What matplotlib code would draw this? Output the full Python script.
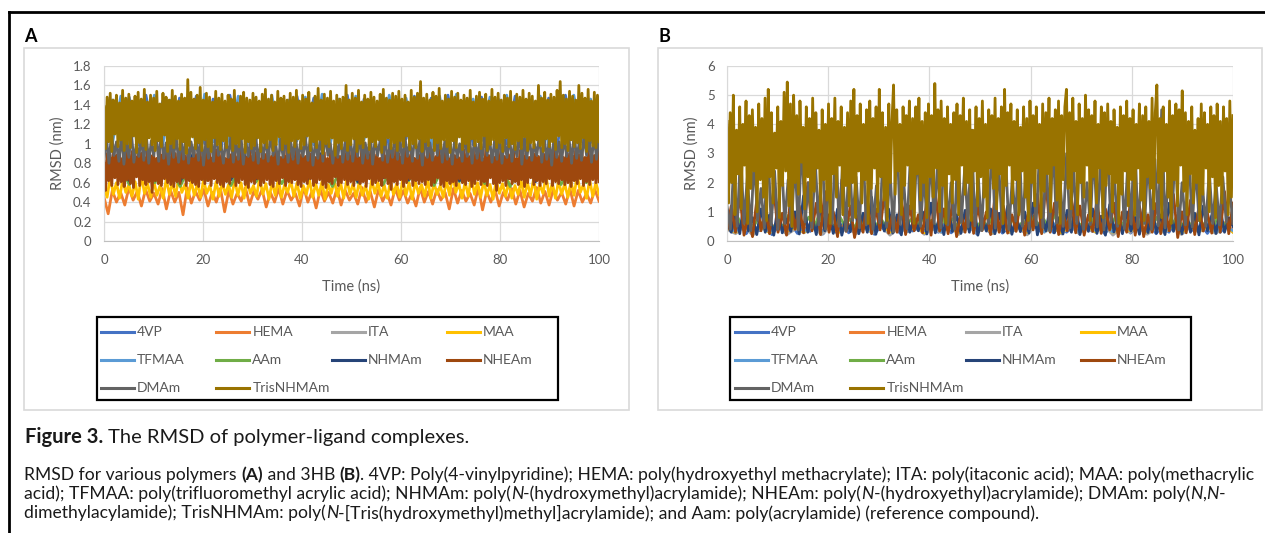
import numpy as np
import matplotlib
matplotlib.use("Agg")
import matplotlib.pyplot as plt
from matplotlib.lines import Line2D
from matplotlib.patches import Rectangle

names = ["4VP", "HEMA", "ITA", "MAA", "TFMAA", "AAm", "NHMAm", "NHEAm", "DMAm", "TrisNHMAm"]
colors = ["#4472C4", "#ED7D31", "#A5A5A5", "#FFC000", "#5B9BD5",
          "#70AD47", "#264478", "#9E480E", "#636363", "#997300"]

# ---- panel A : RMSD (nm) of polymer-ligand complexes, sampled over 0-100 ns ----
a_4vp = [1.20, 1.45, 1.02, 1.48, 0.98, 1.50, 1.05, 1.44, 0.96, 1.47, 1.08, 1.49, 1.00, 1.46, 0.97, 1.50,
         1.04, 1.43, 0.99, 1.48, 1.06, 1.45, 0.95, 1.49, 1.02, 1.47, 1.00, 1.44, 1.07, 1.50, 0.98, 1.46,
         1.03, 1.48, 0.96, 1.45, 1.05, 1.49, 1.01, 1.47, 0.97, 1.50, 1.04, 1.44, 0.99, 1.48, 1.06, 1.46,
         1.00, 1.49, 0.98, 1.45, 1.03, 1.47, 0.96, 1.50, 1.05, 1.46, 1.01, 1.48]
a_hema = [0.45, 0.28, 0.52, 0.40, 0.50, 0.37, 0.55, 0.42, 0.51, 0.36, 0.53, 0.41, 0.49, 0.38, 0.54, 0.33,
          0.52, 0.40, 0.50, 0.27, 0.55, 0.39, 0.51, 0.42, 0.53, 0.36, 0.50, 0.40, 0.54, 0.30, 0.52, 0.38,
          0.49, 0.41, 0.55, 0.37, 0.51, 0.43, 0.53, 0.35, 0.50, 0.40, 0.54, 0.38, 0.52, 0.42, 0.49, 0.36,
          0.55, 0.40, 0.51, 0.34, 0.53, 0.41, 0.50, 0.39, 0.54, 0.37, 0.52, 0.42, 0.49, 0.38, 0.55, 0.40,
          0.51, 0.35, 0.53, 0.41, 0.50, 0.37, 0.54, 0.42, 0.52, 0.39, 0.49, 0.36, 0.55, 0.40, 0.51, 0.38,
          0.53, 0.42, 0.50, 0.33, 0.54, 0.39, 0.52, 0.41, 0.49, 0.37, 0.55, 0.32, 0.51, 0.40, 0.53, 0.36,
          0.50, 0.42, 0.54, 0.38, 0.52, 0.35, 0.49, 0.41, 0.55, 0.39, 0.51, 0.37, 0.53, 0.42, 0.50, 0.38,
          0.54, 0.36, 0.52, 0.40, 0.49, 0.39, 0.53, 0.41]
a_ita = [0.80, 0.92, 0.68, 0.95, 0.70, 0.90, 0.66, 0.93, 0.72, 0.91, 0.67, 0.94, 0.69, 0.92, 0.71, 0.95,
         0.66, 0.90, 0.73, 0.93, 0.68, 0.91, 0.70, 0.94, 0.67, 0.92, 0.72, 0.90, 0.69, 0.95, 0.66, 0.93,
         0.71, 0.91, 0.68, 0.94, 0.70, 0.92, 0.67, 0.90]
a_maa = [0.55, 0.45, 0.66, 0.48, 0.60, 0.44, 0.63, 0.50, 0.58, 0.46, 0.61, 0.43, 0.68, 0.49, 0.59, 0.45,
         0.62, 0.47, 0.57, 0.44, 0.64, 0.48, 0.60, 0.46, 0.66, 0.50, 0.58, 0.44, 0.62, 0.47, 0.59, 0.45,
         0.63, 0.49, 0.57, 0.43, 0.61, 0.46, 0.60, 0.48, 0.58, 0.45, 0.63, 0.47, 0.60, 0.44, 0.62, 0.49,
         0.57, 0.46, 0.65, 0.48, 0.59, 0.43, 0.61, 0.47, 0.64, 0.45, 0.58, 0.50, 0.62, 0.46, 0.60, 0.44,
         0.57, 0.48, 0.63, 0.45, 0.59, 0.47, 0.61, 0.43, 0.58, 0.49, 0.62, 0.46, 0.60, 0.44, 0.64, 0.48,
         0.59, 0.45, 0.61, 0.47, 0.57, 0.43, 0.63, 0.49, 0.60, 0.46, 0.58, 0.44, 0.62, 0.48, 0.59, 0.45,
         0.64, 0.47, 0.60, 0.43, 0.61, 0.49, 0.58, 0.46, 0.63, 0.44, 0.60, 0.48, 0.57, 0.45, 0.62, 0.47,
         0.69, 0.50, 0.59, 0.44, 0.61, 0.46, 0.66, 0.48, 0.60, 0.45, 0.62, 0.47, 0.58, 0.43, 0.63, 0.49,
         0.59, 0.46, 0.61, 0.44, 0.57, 0.48, 0.62, 0.45, 0.60, 0.47, 0.64, 0.43, 0.58, 0.49, 0.67, 0.46,
         0.60, 0.44, 0.62, 0.48, 0.59, 0.45, 0.61, 0.47, 0.68, 0.50, 0.58, 0.44, 0.63, 0.46, 0.60, 0.48]
a_tfmaa = [1.35, 1.00, 1.49, 0.97, 1.46, 1.04, 1.50, 0.99, 1.45, 1.06, 1.48, 0.96, 1.51, 1.02, 1.44, 1.00,
           1.49, 0.98, 1.47, 1.05, 1.50, 0.97, 1.45, 1.03, 1.48, 0.99, 1.51, 1.01, 1.46, 0.96, 1.49, 1.04,
           1.44, 1.00, 1.50, 0.98, 1.47, 1.06, 1.45, 0.97, 1.49, 1.02, 1.51, 0.99, 1.46, 1.03, 1.48, 0.96,
           1.50, 1.01, 1.45, 1.05, 1.49, 0.98, 1.47, 1.00, 1.50, 1.02, 1.46, 0.99]
a_aam = [0.65, 0.82, 0.58, 0.85, 0.60, 0.80, 0.56, 0.84, 0.62, 0.81, 0.57, 0.83, 0.61, 0.85, 0.59, 0.80,
         0.63, 0.82, 0.56, 0.84, 0.60, 0.81, 0.58, 0.85, 0.62, 0.80, 0.57, 0.83, 0.61, 0.82, 0.59, 0.84,
         0.56, 0.81, 0.63, 0.85, 0.58, 0.80, 0.60, 0.83]
a_nhmam = [0.75, 0.88, 0.62, 0.90, 0.65, 0.86, 0.61, 0.89, 0.67, 0.87, 0.63, 0.90, 0.64, 0.85, 0.66, 0.88,
           0.62, 0.90, 0.68, 0.86, 0.61, 0.89, 0.65, 0.87, 0.63, 0.90, 0.67, 0.85, 0.62, 0.88, 0.66, 0.89,
           0.64, 0.86, 0.61, 0.90, 0.68, 0.87, 0.63, 0.88]
a_nheam = [0.80, 0.52, 0.90, 0.62, 0.86, 0.57, 0.93, 0.65, 0.88, 0.58, 0.91, 0.61, 0.85, 0.56, 0.94, 0.63,
           0.89, 0.59, 0.92, 0.55, 0.87, 0.66, 0.93, 0.57, 0.90, 0.63, 0.86, 0.58, 0.94, 0.61, 0.88, 0.50,
           0.91, 0.62, 0.85, 0.59, 0.93, 0.57, 0.89, 0.64, 0.92, 0.60, 0.87, 0.58, 0.94, 0.56, 0.90, 0.61,
           0.86, 0.59, 0.93, 0.65, 0.88, 0.57, 0.91, 0.62, 0.85, 0.60, 0.94, 0.58, 0.89, 0.56, 0.92, 0.63,
           0.87, 0.59, 0.93, 0.62, 0.90, 0.57, 0.86, 0.64, 0.94, 0.60, 0.88, 0.58, 0.91, 0.56, 0.85, 0.61,
           0.93, 0.59, 0.89, 0.66, 0.92, 0.57, 0.87, 0.60, 0.94, 0.63, 0.90, 0.58, 0.86, 0.55, 0.93, 0.61,
           0.88, 0.59, 0.91, 0.64, 0.85, 0.57, 0.94, 0.60, 0.89, 0.63, 0.92, 0.58, 0.87, 0.56, 0.93, 0.62,
           0.90, 0.59, 0.86, 0.65, 0.94, 0.57, 0.88, 0.61, 0.91, 0.60, 0.85, 0.63, 0.93, 0.58, 0.89, 0.56,
           0.92, 0.61, 0.87, 0.59, 0.94, 0.64, 0.90, 0.57, 0.86, 0.60, 0.93, 0.63, 0.88, 0.58, 0.91, 0.55,
           0.85, 0.61, 0.94, 0.59, 0.89, 0.66, 0.92, 0.57, 0.87, 0.60, 0.93, 0.63, 0.90, 0.58, 0.95, 0.61,
           0.88, 0.57, 0.92, 0.63, 0.86, 0.59, 0.94, 0.61, 0.90, 0.56, 0.87, 0.64, 0.93, 0.58, 0.89, 0.60,
           0.91, 0.62, 0.85, 0.57, 0.93, 0.65, 0.88, 0.59, 0.92, 0.53, 0.86, 0.61, 0.94, 0.58, 0.90, 0.63,
           0.87, 0.56, 0.93, 0.60, 0.89, 0.64, 0.91, 0.57, 0.85, 0.62, 0.94, 0.59, 0.88, 0.61, 0.92, 0.58,
           0.86, 0.63, 0.93, 0.57, 0.90, 0.60, 0.87, 0.65, 0.94, 0.58, 0.89, 0.56, 0.92, 0.62, 0.85, 0.59,
           0.93, 0.61, 0.88, 0.57, 0.91, 0.64, 0.86, 0.60, 0.94, 0.58, 0.90, 0.62, 0.87, 0.56, 0.93, 0.59,
           0.89, 0.63, 0.92, 0.58, 0.85, 0.61, 0.94, 0.57, 0.88, 0.65, 0.91, 0.59, 0.86, 0.52, 0.93, 0.60,
           0.90, 0.62, 0.87, 0.57, 0.94, 0.64, 0.89, 0.59, 0.92, 0.61, 0.85, 0.58, 0.93, 0.63, 0.88, 0.56,
           0.91, 0.60, 0.86, 0.65, 0.94, 0.58, 0.90, 0.62, 0.87, 0.57, 0.93, 0.61, 0.89, 0.59, 0.92, 0.64,
           0.85, 0.57, 0.94, 0.61, 0.88, 0.59, 0.91, 0.63, 0.86, 0.58, 0.93, 0.60, 0.90, 0.56, 0.87, 0.62,
           0.94, 0.59, 0.89, 0.64, 0.92, 0.57, 0.86, 0.61, 0.93, 0.58, 0.90, 0.63, 0.88, 0.60, 0.95, 0.61]
a_dmam = [0.85, 1.05, 0.80, 1.10, 0.88, 1.02, 0.82, 1.08, 0.79, 1.04, 0.86, 1.12, 0.81, 1.00, 0.87, 1.06, 0.83, 1.09, 0.80, 1.03,
          0.88, 1.07, 0.82, 1.11, 0.85, 1.01, 0.79, 1.05, 0.86, 1.08, 0.81, 1.04, 0.84, 1.10, 0.80, 1.02, 0.87, 1.06, 0.83, 1.09,
          0.78, 1.03, 0.85, 1.07, 0.82, 1.12, 0.88, 1.00, 0.80, 1.05, 0.86, 1.08, 0.81, 1.04, 0.84, 1.10, 0.79, 1.02, 0.87, 1.06,
          0.83, 1.09, 0.80, 1.03, 0.85, 1.07, 0.82, 1.11, 0.88, 1.01, 0.79, 1.05, 0.86, 1.08, 0.81, 1.04, 0.84, 1.10, 0.80, 1.02,
          0.87, 1.06, 0.83, 1.09, 0.78, 1.03, 0.85, 1.07, 0.82, 1.12, 0.88, 1.00, 0.80, 1.05, 0.86, 1.08, 0.81, 1.04, 0.84, 1.06,
          0.82, 1.04, 0.87, 1.09, 0.80, 1.01, 0.85, 1.11, 0.79, 1.06, 0.88, 1.03, 0.83, 1.08, 0.81, 1.00, 0.86, 1.10, 0.84, 1.05,
          0.80, 1.07, 0.87, 1.02, 0.82, 1.12, 0.85, 1.04, 0.78, 1.09, 0.86, 1.01, 0.83, 1.06, 0.88, 1.10, 0.81, 1.03, 0.84, 1.08,
          0.79, 1.05, 0.86, 1.00, 0.82, 1.11, 0.87, 1.04, 0.80, 1.07, 0.85, 1.02, 0.83, 1.09, 0.88, 1.06, 0.81, 1.03, 0.84, 1.10,
          0.80, 1.04, 0.86, 1.08, 0.82, 1.01, 0.87, 1.12, 0.79, 1.05, 0.85, 1.07, 0.83, 1.00, 0.88, 1.09, 0.81, 1.06, 0.84, 1.03,
          0.78, 1.10, 0.86, 1.02, 0.82, 1.07, 0.87, 1.04, 0.80, 1.11, 0.85, 1.00, 0.83, 1.08, 0.88, 1.05, 0.81, 1.09, 0.84, 1.06]
a_tris = [1.38, 0.95, 1.48, 1.02, 1.52, 0.92, 1.45, 1.10, 1.50, 0.97, 1.42, 1.04, 1.55, 0.93, 1.47, 1.00,
          1.51, 0.96, 1.44, 1.08, 1.49, 0.91, 1.53, 1.01, 1.46, 0.98, 1.56, 0.94, 1.43, 1.06, 1.50, 0.99,
          1.47, 0.93, 1.54, 1.03, 1.41, 0.97, 1.52, 1.09, 1.48, 0.92, 1.45, 1.00, 1.55, 0.96, 1.49, 1.05,
          1.44, 0.94, 1.51, 1.02, 1.47, 0.90, 1.66, 0.98, 1.53, 1.07, 1.46, 0.95, 1.50, 1.01, 1.58, 0.93,
          1.45, 1.04, 1.52, 0.97, 1.48, 0.92, 1.43, 1.06, 1.54, 0.99, 1.47, 0.94, 1.51, 1.03, 1.44, 0.96,
          1.50, 1.08, 1.46, 0.93, 1.55, 1.00, 1.42, 0.97, 1.49, 1.05, 1.53, 0.91, 1.47, 1.02, 1.45, 0.95,
          1.52, 0.98, 1.48, 1.06, 1.44, 0.92, 1.51, 1.01, 1.56, 0.96, 1.46, 1.04, 1.50, 0.93, 1.43, 0.99,
          1.54, 1.07, 1.47, 0.94, 1.49, 1.00, 1.45, 0.91, 1.52, 1.03, 1.48, 0.97, 1.55, 1.05, 1.44, 0.95,
          1.50, 0.99, 1.46, 1.08, 1.53, 0.93, 1.42, 1.02, 1.49, 0.96, 1.57, 1.04, 1.45, 0.90, 1.51, 1.00,
          1.47, 0.97, 1.54, 1.06, 1.44, 0.88, 1.50, 1.01, 1.46, 0.95, 1.48, 1.03, 1.60, 0.93, 1.45, 0.99,
          1.52, 1.05, 1.47, 0.92, 1.55, 1.00, 1.43, 0.96, 1.50, 1.07, 1.46, 0.94, 1.53, 1.02, 1.48, 0.97,
          1.44, 1.04, 1.51, 0.91, 1.56, 0.99, 1.47, 1.06, 1.45, 0.95, 1.52, 1.01, 1.49, 0.93, 1.54, 1.03,
          1.46, 0.97, 1.50, 1.08, 1.43, 0.94, 1.55, 1.00, 1.48, 0.96, 1.52, 1.05, 1.64, 0.92, 1.47, 1.02,
          1.51, 0.98, 1.45, 1.06, 1.53, 0.93, 1.49, 1.01, 1.57, 0.95, 1.44, 1.04, 1.50, 0.97, 1.46, 0.91,
          1.54, 1.03, 1.48, 0.96, 1.52, 1.07, 1.45, 0.94, 1.50, 1.00, 1.47, 0.92, 1.55, 1.05, 1.43, 0.98,
          1.49, 1.02, 1.53, 0.95, 1.46, 1.08, 1.51, 0.93, 1.44, 0.99, 1.56, 1.04, 1.48, 0.96, 1.52, 1.01,
          1.45, 0.92, 1.50, 1.06, 1.47, 0.97, 1.54, 1.00, 1.43, 0.94, 1.51, 1.03, 1.48, 0.95, 1.55, 1.07,
          1.46, 0.93, 1.52, 1.01, 1.49, 0.96, 1.44, 1.04, 1.60, 0.98, 1.47, 0.92, 1.53, 1.05, 1.45, 0.97,
          1.51, 1.02, 1.48, 0.94, 1.55, 1.08, 1.64, 0.96, 1.50, 1.00, 1.46, 0.93, 1.54, 1.04, 1.49, 0.97,
          1.45, 1.01, 1.60, 0.95, 1.52, 1.06, 1.47, 0.92, 1.56, 1.03, 1.44, 0.98, 1.53, 0.96, 1.50, 1.02]

# ---- panel B ----
b_4vp = [0.50, 0.30, 0.60, 0.25, 0.55, 0.35, 0.62, 0.22, 0.50, 0.30, 0.58, 0.26, 0.45, 0.33, 0.60, 0.24,
         0.52, 0.30, 0.57, 0.28, 0.48, 0.35, 0.63, 0.23, 0.50, 0.31, 0.56, 0.27, 0.60, 0.34, 0.47, 0.25,
         0.55, 0.30, 0.62, 0.28, 0.50, 0.33, 0.58, 0.24, 0.53, 0.30, 0.60, 0.27, 0.46, 0.35, 0.57, 0.25,
         0.50, 0.32, 0.61, 0.28, 0.54, 0.30, 0.48, 0.26, 0.59, 0.33, 0.52, 0.24, 0.56, 0.31, 0.60, 0.27,
         0.49, 0.34, 0.57, 0.25, 0.53, 0.30, 0.62, 0.28, 0.50, 0.32, 0.55, 0.26, 0.58, 0.30, 0.51, 0.35]
b_hema = [0.60, 0.35, 0.70, 0.30, 0.55, 0.40, 0.65, 0.32, 0.50, 0.38, 0.68, 0.30, 0.58, 0.42, 0.62, 0.33,
          0.52, 0.36, 0.66, 0.31, 0.57, 0.40, 0.64, 0.34, 0.50, 0.37, 0.69, 0.30, 0.60, 0.41, 0.55, 0.33,
          0.63, 0.38, 0.52, 0.31, 0.67, 0.40, 0.58, 0.35, 0.61, 0.32, 0.54, 0.39, 0.65, 0.30, 0.57, 0.42,
          0.62, 0.34, 0.50, 0.37, 0.68, 0.31, 0.59, 0.40, 0.56, 0.33, 0.63, 0.36]
b_ita = [0.40, 0.25, 0.50, 0.20, 0.45, 0.30, 0.52, 0.22, 0.42, 0.28, 0.55, 0.21, 0.47, 0.30, 0.50, 0.24,
         0.44, 0.27, 0.53, 0.20, 0.46, 0.31, 0.51, 0.23, 0.41, 0.29, 0.54, 0.22, 0.48, 0.30, 0.43, 0.25,
         0.52, 0.28, 0.45, 0.21, 0.55, 0.30, 0.47, 0.24, 0.50, 0.27, 0.42, 0.30, 0.53, 0.20, 0.46, 0.29,
         0.51, 0.23, 0.44, 0.28, 0.54, 0.22, 0.48, 0.31, 0.45, 0.25, 0.52, 0.30]
b_maa = [0.45, 0.30, 0.55, 0.33, 0.50, 0.28, 0.58, 0.35, 0.47, 0.30, 0.60, 0.32, 0.52, 0.29, 0.56, 0.36,
         0.48, 0.31, 0.59, 0.30, 0.53, 0.34, 0.50, 0.28, 0.57, 0.33, 0.46, 0.30, 0.55, 0.35, 0.49, 0.29,
         0.58, 0.32, 0.51, 0.30, 0.60, 0.34, 0.47, 0.28, 0.54, 0.33, 0.50, 0.31, 0.57, 0.29, 0.52, 0.35,
         0.48, 0.30, 0.59, 0.32, 0.53, 0.28, 0.56, 0.34, 0.49, 0.31, 0.55, 0.30]
b_tfmaa = [0.50, 0.32, 0.60, 0.35, 0.55, 0.30, 0.63, 0.38, 0.52, 0.33, 0.58, 0.31, 0.62, 0.36, 0.50, 0.34,
           0.57, 0.30, 0.65, 0.37, 0.53, 0.32, 0.60, 0.35, 0.56, 0.31, 0.61, 0.38, 0.51, 0.33, 0.59, 0.30,
           0.64, 0.36, 0.54, 0.34, 0.58, 0.31, 0.62, 0.37, 0.52, 0.32, 0.60, 0.35, 0.55, 0.30, 0.63, 0.38,
           0.50, 0.33, 0.57, 0.31, 0.61, 0.36, 0.53, 0.34, 0.59, 0.30, 0.56, 0.35]
b_aam = [0.70, 0.45, 0.85, 0.50, 0.90, 0.42, 0.75, 0.55, 0.80, 0.44, 0.68, 0.50, 0.88, 0.46, 0.72, 0.52,
         0.82, 0.43, 0.90, 0.50, 0.70, 0.47, 0.86, 0.53, 0.76, 0.44, 0.92, 0.49, 0.73, 0.45, 0.80, 0.52,
         0.69, 0.46, 0.87, 0.50, 0.74, 0.43, 0.83, 0.51, 0.71, 0.48, 0.89, 0.45, 0.77, 0.53, 0.70, 0.44,
         0.85, 0.50, 0.75, 0.46, 0.91, 0.52, 0.72, 0.43, 0.80, 0.49, 0.68, 0.47, 0.86, 0.51, 0.74, 0.44,
         0.90, 0.50, 0.73, 0.46, 0.82, 0.53, 0.70, 0.45, 0.88, 0.49, 0.76, 0.43, 0.84, 0.52, 0.71, 0.47,
         0.89, 0.50, 0.75, 0.44, 0.81, 0.51, 0.69, 0.46, 0.87, 0.53, 0.73, 0.45, 0.92, 0.49, 0.77, 0.43,
         0.83, 0.50, 0.70, 0.60]
b_nhmam = [0.60, 0.30, 1.00, 0.25, 1.30, 0.35, 0.80, 0.22, 1.10, 0.30, 0.90, 0.20, 1.20, 0.28, 0.75, 0.33,
           1.00, 0.24, 1.55, 0.30, 0.85, 0.22, 1.20, 0.35, 0.90, 0.26, 1.10, 0.20, 0.80, 0.32, 1.30, 0.25,
           0.95, 0.30, 1.50, 0.23, 0.85, 0.34, 1.10, 0.27, 0.90, 0.21, 1.25, 0.30, 0.80, 0.35, 1.00, 0.24,
           1.30, 0.28, 0.85, 0.22, 1.15, 0.33, 0.90, 0.26, 1.05, 0.30, 1.35, 0.20, 0.80, 0.34, 1.10, 0.25,
           0.95, 0.30, 1.20, 0.23, 0.85, 0.32, 1.00, 0.27, 1.30, 0.21, 0.90, 0.35, 1.15, 0.28, 0.80, 0.24,
           1.05, 0.30, 1.40, 0.22, 0.90, 0.33, 1.10, 0.26, 0.85, 0.20, 1.25, 0.31, 0.95, 0.25, 1.00, 0.34,
           0.80, 0.23, 1.20, 0.29, 1.10, 0.27, 0.90, 0.22, 1.30, 0.33, 0.85, 0.25, 1.05, 0.30, 0.95, 0.21,
           1.20, 0.35, 0.88, 0.26, 1.10, 0.30, 0.80, 0.50]
b_nheam = [0.40, 1.20, 0.30, 1.60, 0.20, 0.90, 0.15, 1.40, 0.35, 1.10, 0.25, 1.80, 0.30, 0.95, 0.20, 1.50,
           0.40, 1.20, 0.28, 2.00, 0.35, 1.30, 0.22, 1.70, 0.30, 1.00, 0.15, 2.10, 0.33, 1.20, 0.12, 0.90,
           0.30, 1.40, 0.25, 1.10, 0.38, 1.60, 0.27, 1.00, 0.30, 1.50, 0.22, 1.20, 0.35, 0.90, 0.28, 1.40,
           0.20, 1.70, 0.34, 1.10, 0.25, 1.30, 0.15, 0.95, 0.30, 1.80, 0.26, 1.20, 0.36, 1.00, 0.22, 1.50,
           0.30, 1.20, 0.27, 0.90, 0.33, 1.40, 0.20, 1.10, 0.38, 1.60, 0.25, 2.00, 0.30, 1.30, 0.22, 1.00,
           0.35, 1.50, 0.28, 1.20, 0.20, 0.90, 0.33, 1.40, 0.26, 1.10, 0.38, 1.30, 0.15, 1.00, 0.30, 1.50,
           0.20, 1.20, 0.15, 0.90, 0.30, 1.30, 0.25, 1.10, 0.35, 1.60, 0.12, 1.00, 0.28, 1.40, 0.22, 1.20,
           0.34, 0.95, 0.27, 1.50, 0.30, 1.70, 0.25, 1.30]
b_dmam = [1.20, 0.40, 2.60, 0.50, 3.10, 0.60, 2.20, 0.35, 2.90, 0.70, 1.80, 0.45, 3.40, 0.55, 2.40, 0.40,
          3.00, 0.60, 2.10, 0.50, 2.80, 0.38, 3.50, 0.65, 2.00, 0.45, 2.70, 0.55, 3.20, 0.40, 1.90, 0.60,
          3.60, 0.50, 2.50, 0.35, 3.00, 0.70, 2.20, 0.45, 3.30, 0.55, 2.60, 0.40, 1.90, 0.62, 3.10, 0.48,
          2.40, 0.30, 3.70, 0.58, 2.10, 0.42, 2.90, 0.66, 3.40, 0.50, 2.30, 0.38, 3.00, 0.60, 2.70, 0.45,
          3.50, 0.55, 2.00, 0.40, 3.20, 0.65, 2.50, 0.48, 3.80, 0.52, 2.20, 0.36, 2.90, 0.60, 3.30, 0.44,
          2.60, 0.58, 3.00, 0.40, 2.10, 0.68, 3.60, 0.50, 2.40, 0.42, 3.10, 0.55, 3.00, 0.46, 2.80, 0.35,
          3.40, 0.62, 2.20, 0.50, 3.00, 0.45, 2.50, 0.60, 3.70, 0.40, 2.00, 0.56, 3.20, 0.48, 2.70, 0.38,
          3.50, 0.64, 2.30, 0.50, 3.10, 0.42, 2.60, 0.58, 3.90, 0.46, 2.20, 0.60, 3.00, 0.40, 2.80, 0.52,
          4.50, 0.45, 2.40, 0.62, 3.30, 0.38, 2.00, 0.55, 3.10, 0.48, 2.60, 0.70, 1.90, 0.50, 2.40, 0.60,
          2.00, 0.55, 2.20, 0.65, 1.80, 0.60]
b_tris = [4.1, 1.3, 4.4, 2.0, 5.0, 0.9, 3.8, 2.3, 4.6, 1.1, 4.0, 2.6, 4.8, 0.6, 4.3, 1.8,
          4.5, 2.4, 3.9, 1.0, 4.7, 2.1, 4.2, 1.5, 4.9, 0.7, 5.2, 2.2, 4.4, 1.3, 3.7, 2.5,
          4.6, 0.8, 4.1, 1.9, 5.1, 2.4, 5.45, 1.2, 4.7, 0.5, 5.0, 2.0, 4.3, 1.6, 4.8, 2.7,
          3.9, 1.1, 4.6, 2.2, 4.2, 0.7, 4.9, 1.7, 4.4, 2.5, 3.8, 1.0, 4.5, 2.1, 4.0, 1.4,
          4.7, 0.6, 4.2, 2.3, 4.9, 1.5, 4.1, 2.6, 4.6, 0.9, 3.9, 1.9, 4.4, 1.2, 4.8, 2.0,
          5.2, 0.8, 4.3, 2.4, 4.7, 1.3, 4.0, 2.1, 4.5, 0.6, 4.8, 1.8, 4.2, 2.5, 4.6, 1.0,
          5.2, 2.2, 4.4, 1.4, 3.9, 0.7, 4.7, 2.0, 4.1, 5.35, 1.6, 4.5, 2.4, 4.0, 0.9, 4.6,
          1.9, 4.3, 2.6, 4.8, 1.1, 4.2, 0.6, 4.6, 2.3, 4.9, 1.4, 4.1, 2.0, 4.4, 0.8, 4.7,
          2.2, 4.3, 1.5, 5.4, 2.5, 4.5, 1.0, 4.8, 1.9, 4.2, 0.6, 4.6, 2.3, 4.0, 1.3, 4.4,
          2.1, 4.7, 0.9, 4.3, 2.6, 4.9, 1.6, 4.1, 2.0, 4.5, 0.7, 3.8, 2.4, 4.6, 1.2, 4.2,
          2.2, 4.8, 1.5, 4.0, 0.8, 4.5, 2.5, 4.3, 1.8, 4.9, 1.1, 4.2, 2.3, 4.6, 0.6, 5.2,
          1.9, 4.4, 2.6, 4.7, 1.3, 4.1, 2.1, 4.5, 0.9, 3.9, 2.4, 4.6, 1.5, 4.2, 0.7, 4.8,
          2.0, 4.3, 1.2, 4.6, 2.5, 4.0, 0.8, 4.7, 1.7, 4.4, 2.3, 4.9, 1.0, 4.2, 2.6, 4.5,
          1.4, 4.8, 0.6, 4.3, 2.1, 4.6, 5.2, 1.8, 4.4, 1.1, 4.9, 2.4, 4.1, 0.9, 4.7, 2.0,
          4.2, 1.5, 5.0, 2.6, 4.5, 0.7, 4.3, 2.2, 4.8, 1.3, 4.0, 2.5, 4.6, 0.8, 4.4, 1.9,
          4.7, 2.3, 4.1, 1.0, 4.5, 2.0, 3.9, 0.6, 4.6, 1.6, 4.3, 2.4, 4.8, 1.2, 4.2, 2.1,
          4.5, 0.9, 4.0, 2.5, 4.7, 1.4, 4.3, 0.7, 4.6, 2.2, 4.1, 1.8, 4.9, 1.1, 4.4, 5.35,
          2.0, 4.2, 0.8, 4.6, 2.4, 4.0, 1.5, 4.8, 0.6, 4.3, 2.1, 4.7, 1.2, 4.5, 2.6, 5.15,
          1.7, 4.4, 0.9, 4.1, 2.3, 4.6, 1.3, 3.8, 2.0, 4.2, 0.7, 4.7, 1.6, 4.4, 2.5, 4.0,
          1.0, 4.6, 2.2, 4.3, 0.8, 4.7, 1.9, 4.1, 1.3, 4.6, 2.4, 4.2, 0.9, 4.8, 1.5, 4.3]

rmsd_a = [a_4vp, a_hema, a_ita, a_maa, a_tfmaa, a_aam, a_nhmam, a_nheam, a_dmam, a_tris]
rmsd_b = [b_4vp, b_hema, b_ita, b_maa, b_tfmaa, b_aam, b_nhmam, b_nheam, b_dmam, b_tris]

a_yticks = [0, 0.2, 0.4, 0.6, 0.8, 1, 1.2, 1.4, 1.6, 1.8]
b_yticks = [0, 1, 2, 3, 4, 5, 6]
x_ticks = [0, 20, 40, 60, 80, 100]

W, H = 1265, 533
fig = plt.figure(figsize=(W / 100, H / 100), dpi=100)
fig.patch.set_facecolor("white")

def fx(px):
    return px / W

def fy(py):
    return 1 - py / H

chart_font = "Lato"
grey_txt = "#595959"

def style_axes(ax, yticks, ylabel_x):
    ax.set_xlim(0, 100)
    ax.set_ylim(yticks[0], yticks[-1])
    ax.set_xticks(x_ticks)
    ax.set_yticks(yticks)
    ax.set_yticklabels([f"{v:g}" for v in yticks])
    ax.grid(True, color="#D9D9D9", lw=0.9)
    ax.set_axisbelow(True)
    for s in ["top", "right"]:
        ax.spines[s].set_visible(False)
    ax.spines["left"].set_color("#D9D9D9")
    ax.spines["bottom"].set_color("#BFBFBF")
    ax.tick_params(length=0, colors=grey_txt, labelsize=9.5)
    ax.tick_params(axis="y", pad=9)
    ax.tick_params(axis="x", pad=9)
    for lab in ax.get_xticklabels() + ax.get_yticklabels():
        lab.set_fontfamily(chart_font)
    ax.set_xlabel("Time (ns)", fontsize=10.5, color=grey_txt, fontfamily=chart_font)
    ax.set_ylabel("RMSD (nm)", fontsize=10.5, color=grey_txt, fontfamily=chart_font)
    ax.xaxis.set_label_coords(0.5, -0.26)
    ax.xaxis.label.set_va("center")
    ax.yaxis.set_label_coords(ylabel_x, 0.5)
    ax.yaxis.label.set_va("center")

axA = fig.add_axes([fx(104), fy(241), (599 - 104) / W, (241 - 66) / H])
axB = fig.add_axes([fx(727), fy(241), (1233 - 727) / W, (241 - 66) / H])

for ax, data in [(axA, rmsd_a), (axB, rmsd_b)]:
    for vals, col, name in zip(data, colors, names):
        t = np.linspace(0, 100, len(vals))
        ax.plot(t, vals, color=col, lw=2.0, label=name)

style_axes(axA, a_yticks, -0.094)
style_axes(axB, b_yticks, -0.071)

# chart-area boxes
for x0, x1 in [(24, 629), (658, 1262)]:
    fig.add_artist(Rectangle((fx(x0), fy(410)), (x1 - x0) / W, (410 - 48) / H,
                             transform=fig.transFigure, fill=False, ec="#D9D9D9", lw=1.2))

# panel letters
fig.text(fx(24), fy(36), "A", fontsize=13, fontweight="bold", fontfamily="Lato", va="center")
fig.text(fx(658), fy(36), "B", fontsize=13, fontweight="bold", fontfamily="Lato", va="center")

# legends drawn as boxes below each chart
row_y = [332, 360, 388]
for box_l, box_r, start in [(97, 558, 101), (730, 1191, 735)]:
    fig.add_artist(Rectangle((fx(box_l), fy(400)), (box_r - box_l) / W, (400 - 317) / H,
                             transform=fig.transFigure, fill=False, ec="black", lw=1.6))
    for k, (name, col) in enumerate(zip(names, colors)):
        r, c = divmod(k, 4)
        xs = start + c * 115.3
        fig.add_artist(Line2D([fx(xs), fx(xs + 33)], [fy(row_y[r])] * 2, color=col, lw=2.2,
                              transform=fig.transFigure))
        fig.text(fx(xs + 36), fy(row_y[r]), name, va="center", ha="left", fontsize=10,
                 color=grey_txt, fontfamily=chart_font)

# outer frame lines
fig.add_artist(Line2D([fx(9), 1.0], [fy(12), fy(12)], color="black", lw=2, transform=fig.transFigure))
fig.add_artist(Line2D([fx(9), fx(9)], [fy(12), 0.0], color="black", lw=2, transform=fig.transFigure))

# caption with mixed bold / italic runs
cap_font = "Lato"
renderer = fig.canvas.get_renderer()

def run_width(txt, size, weight, style):
    probe = fig.text(0, 0, "|" + txt + "|", fontsize=size, fontweight=weight, fontstyle=style,
                     fontfamily=cap_font)
    bar = fig.text(0, 0, "||", fontsize=size, fontweight=weight, fontstyle=style, fontfamily=cap_font)
    w = probe.get_window_extent(renderer).width - bar.get_window_extent(renderer).width
    probe.remove()
    bar.remove()
    return w

def rich_line(x_px, y_px, runs, size, draw=True):
    x = x_px
    for txt, kind in runs:
        weight = "bold" if kind == "b" else "normal"
        style = "italic" if kind == "i" else "normal"
        if draw:
            fig.text(fx(x), fy(y_px), txt, fontsize=size, fontweight=weight, fontstyle=style,
                     fontfamily=cap_font, va="center", ha="left", color="#1a1a1a")
        x += run_width(txt, size, weight, style)
    return x - x_px

title_runs = [("Figure 3.", "b"), (" The RMSD of polymer-ligand complexes.", "r")]
line1 = [("RMSD for various polymers ", "r"), ("(A)", "b"), (" and 3HB ", "r"), ("(B)", "b"),
         (". 4VP: Poly(4-vinylpyridine); HEMA: poly(hydroxyethyl methacrylate); ITA: poly(itaconic acid); "
          "MAA: poly(methacrylic", "r")]
line2 = [("acid); TFMAA: poly(trifluoromethyl acrylic acid); NHMAm: poly(", "r"), ("N", "i"),
         ("-(hydroxymethyl)acrylamide); NHEAm: poly(", "r"), ("N", "i"),
         ("-(hydroxyethyl)acrylamide); DMAm: poly(", "r"), ("N", "i"), (",", "r"), ("N", "i"), ("-", "r")]
line3 = [("dimethylacylamide); TrisNHMAm: poly(", "r"), ("N", "i"),
         ("-[Tris(hydroxymethyl)methyl]acrylamide); and Aam: poly(acrylamide) (reference compound).", "r")]

ts = 12.0 * 443 / rich_line(25, 0, title_runs, 12.0, draw=False)
rich_line(25, 437, title_runs, ts)
cs = 10.0 * 1226 / rich_line(24, 0, line1, 10.0, draw=False)
rich_line(24, 475, line1, cs)
rich_line(24, 494, line2, cs)
rich_line(24, 513, line3, cs)

fig.savefig("out.png", dpi=100, facecolor="white")
